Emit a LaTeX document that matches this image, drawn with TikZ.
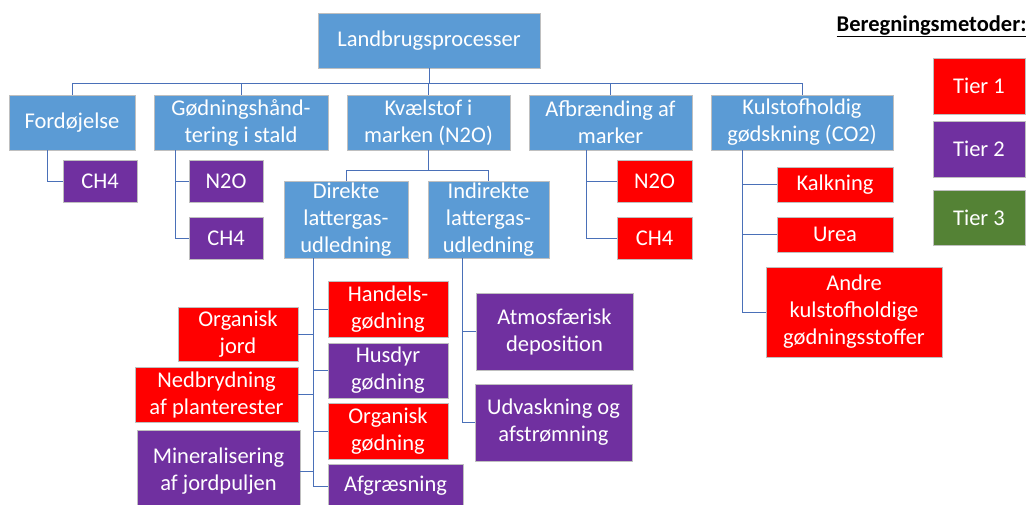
\documentclass[tikz,border=0pt]{standalone}
\usepackage{fontspec}
\setmainfont{Carlito}

\definecolor{procblue}{HTML}{5B9BD5}
\definecolor{tierred}{HTML}{FF0000}
\definecolor{tierpurple}{HTML}{7030A0}
\definecolor{tiergreen}{HTML}{548235}
\definecolor{linkblue}{HTML}{4A70B8}

\tikzset{
  box/.style={draw=black!25, line width=0.8pt, text=white, align=center, inner sep=0pt,
              font=\fontsize{22.5}{27}\selectfont},
  procbox/.style={box, fill=procblue},
  redbox/.style={box, fill=tierred},
  purplebox/.style={box, fill=tierpurple},
  greenbox/.style={box, fill=tiergreen},
  link/.style={draw=linkblue, line width=0.9pt}
}

\begin{document}
\begin{tikzpicture}[x=1pt, y=-1pt]

  \useasboundingbox (0,0) rectangle (1031,504);

  \node[procbox, minimum width=222, minimum height=55] (root) at (429,40.5) {Landbrugsprocesser};

  \node[procbox, minimum width=126, minimum height=55] (fordoj) at (72,122.5) {Fordøjelse};
  \node[procbox, minimum width=174, minimum height=55] (goed) at (241,122.5) {Gødningshånd-\\tering i stald};
  \node[procbox, minimum width=163, minimum height=55] (kvael) at (428.5,122.5) {Kvælstof i\\marken (N2O)};
  \node[procbox, minimum width=163, minimum height=55] (afbr) at (610.5,122.5) {Afbrænding af\\marker};
  \node[procbox, minimum width=182, minimum height=55] (kulst) at (802,122.5) {Kulstofholdig\\gødskning (CO2)};

    \coordinate (bus) at (0,83);
    \foreach \n in {fordoj,goed,kvael,afbr,kulst}
      \draw[link] (root.south) -- (root.south |- bus) -| (\n.north);

  \node[purplebox, minimum width=74, minimum height=42] (ch4a) at (100,181) {CH4};
    \draw[link] ([xshift=-25]fordoj.south) |- (ch4a.west);

  \node[purplebox, minimum width=74, minimum height=42] (n2ob) at (226,181) {N2O};
  \node[purplebox, minimum width=74, minimum height=42] (ch4b) at (226,238) {CH4};
    \foreach \c in {n2ob,ch4b}
      \draw[link] ([xshift=-66]goed.south) |- (\c.west);

  \node[procbox, minimum width=124, minimum height=77] (direkte) at (346,219.5) {Direkte\\lattergas-\\udledning};
  \node[procbox, minimum width=121, minimum height=77] (indir) at (488.5,219.5) {Indirekte\\lattergas-\\udledning};

    \coordinate (kbus) at (0,170);
    \foreach \n in {direkte,indir}
      \draw[link] (kvael.south) -- (kvael.south |- kbus) -| (\n.north);

  \node[redbox, minimum width=75, minimum height=42] (n2oc) at (654.5,181) {N2O};
  \node[redbox, minimum width=75, minimum height=42] (ch4c) at (654.5,238) {CH4};
    \foreach \c in {n2oc,ch4c}
      \draw[link] ([xshift=-24]afbr.south) |- (\c.west);

  \node[redbox, minimum width=116, minimum height=35] (kalk) at (835,184.5) {Kalkning};
  \node[redbox, minimum width=116, minimum height=35] (urea) at (835,234.5) {Urea};
  \node[redbox, minimum width=176, minimum height=90] (andre) at (854,312) {Andre\\kulstofholdige\\gødningsstoffer};
    \foreach \c in {kalk,urea,andre}
      \draw[link] ([xshift=-60]kulst.south) |- (\c.west);

  \node[redbox, minimum width=120, minimum height=56] (handels) at (388,309) {Handels-\\gødning};
  \node[purplebox, minimum width=120, minimum height=55] (husdyr) at (388,370.5) {Husdyr\\gødning};
  \node[redbox, minimum width=120, minimum height=56] (orggoed) at (388,431) {Organisk\\gødning};
  \node[purplebox, minimum width=135, minimum height=44] (afgr) at (395.5,486) {Afgræsning};
    \foreach \c in {handels,husdyr,orggoed,afgr}
      \draw[link] ([xshift=-33]direkte.south) |- (\c.west);

  \node[redbox, minimum width=120, minimum height=54] (orgjord) at (238,334) {Organisk\\jord};
  \node[redbox, minimum width=163, minimum height=55] (nedbr) at (216.5,394.5) {Nedbrydning\\af planterester};
  \node[purplebox, minimum width=163, minimum height=82] (miner) at (218.5,471) {Mineralisering\\af jordpuljen};
    \foreach \c in {orgjord,nedbr,miner}
      \draw[link] ([xshift=-33]direkte.south) |- (\c.east);

  \node[purplebox, minimum width=157, minimum height=77] (atmos) at (554.5,331.5) {Atmosfærisk\\deposition};
  \node[purplebox, minimum width=157, minimum height=77] (udvask) at (553.5,422.5) {Udvaskning og\\afstrømning};
    \foreach \c in {atmos,udvask}
      \draw[link] ([xshift=-26.5]indir.south) |- (\c.west);

  \node[anchor=base east, font=\fontsize{22.5}{27}\selectfont\bfseries] (legend) at (1030,31) {\underline{Beregningsmetoder:}};

  \node[redbox, minimum width=92, minimum height=56] (tier1) at (979,86) {Tier 1};
  \node[purplebox, minimum width=92, minimum height=56] (tier2) at (979,149) {Tier 2};
  \node[greenbox, minimum width=92, minimum height=55] (tier3) at (979,217.5) {Tier 3};

\end{tikzpicture}
\end{document}
